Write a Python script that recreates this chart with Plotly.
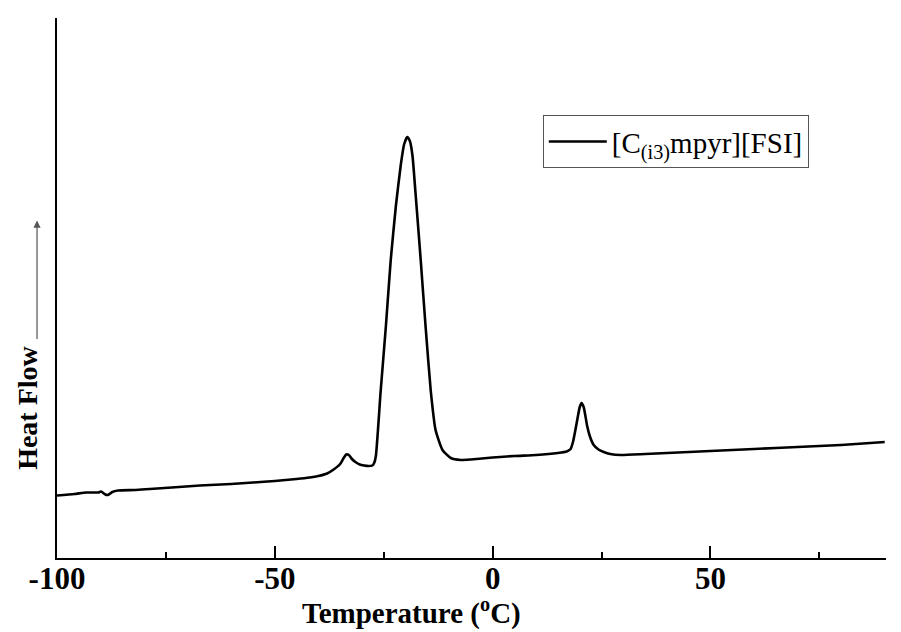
import plotly.graph_objects as go

# Data (temperature in °C, heat flow in arbitrary units)
temperature = [-100, -96, -93.3, -90.5, -89.9, -88.9, -88.3, -87.3, -86.0, -82, -78.7,
               -72, -67.2, -60, -55, -50, -45, -42, -40, -38, -36.5, -35, -34.2,
               -33.6, -33.0, -32.4, -31.5, -30.5, -29.5, -28.5, -27.6, -27.2, -26.8,
               -25.7, -24.5, -23.4, -22.2, -21.1, -20.3, -19.6, -19.0, -18.4, -17.7,
               -16.5, -15.4, -14.2, -13.1, -11.5, -9.6, -7.3, -5, 0, 5, 10, 15,
               17.0, 17.9, 18.5, 19.0, 19.5, 20.0, 20.4, 20.9, 21.3, 21.7, 22.3,
               23.2, 24.3, 25.5, 27, 29.4, 35, 40, 50, 60, 70, 80, 90]
heat_flow = [1.25, 1.28, 1.31, 1.31, 1.33, 1.27, 1.26, 1.32, 1.35, 1.36, 1.38,
             1.42, 1.45, 1.48, 1.51, 1.54, 1.58, 1.61, 1.64, 1.69, 1.77, 1.88, 2.00,
             2.07, 2.06, 1.99, 1.92, 1.87, 1.85, 1.84, 1.85, 1.90, 2.04,
             3.34, 4.64, 5.95, 7.05, 7.85, 8.28, 8.42, 8.34, 8.05, 7.30,
             5.95, 4.64, 3.34, 2.56, 2.16, 2.00, 1.96, 1.97, 2.01, 2.04, 2.06, 2.10,
             2.13, 2.18, 2.34, 2.56, 2.80, 3.02, 3.10, 3.02, 2.84, 2.64, 2.44,
             2.26, 2.17, 2.12, 2.08, 2.06, 2.08, 2.10, 2.14, 2.18, 2.22, 2.26, 2.32]

series_name = "[C<sub>(i3)</sub>mpyr][FSI]"
x_ticks = [-100, -50, 0, 50]
x_tick_labels = ["-100", "-50", "0", "50"]

SERIF = "Times New Roman, Liberation Serif, serif"

fig = go.Figure()
fig.add_trace(go.Scatter(
    x=temperature, y=heat_flow, mode="lines", name=series_name,
    line=dict(color="black", width=2.6, shape="spline", smoothing=0.5),
))

# page body has an 8px margin: figure is 893x624 so it fills the 901x632 window
fig.update_layout(
    width=893, height=624,
    margin=dict(l=49, r=15, t=10, b=74),
    paper_bgcolor="white", plot_bgcolor="white",
    showlegend=True,
    legend=dict(
        x=0.586, y=0.82, xanchor="left", yanchor="top",
        bgcolor="white", bordercolor="#555555", borderwidth=1,
        font=dict(family=SERIF, size=29, color="black"),
        itemwidth=58, tracegroupgap=0,
    ),
    xaxis=dict(
        range=[-100, 90.3], showgrid=False, zeroline=False,
        showline=True, linecolor="black", linewidth=2,
        tickmode="array", tickvals=x_ticks, ticktext=x_tick_labels,
        ticks="inside", ticklen=12, tickwidth=2, tickcolor="black",
        ticklabelstandoff=-8,
        minor=dict(ticks="inside", ticklen=6, tickwidth=2, tickcolor="black",
                   dtick=25, tick0=-100, showgrid=False),
        tickfont=dict(family=SERIF, size=31, color="black", weight="bold"),
    ),
    yaxis=dict(
        range=[0, 10.8], showgrid=False, zeroline=False,
        showline=True, linecolor="black", linewidth=2,
        showticklabels=False, ticks="",
    ),
)

fig.add_annotation(
    text="<b>Temperature (<sup>o</sup>C)</b>", xref="paper", yref="paper",
    x=0.428, y=-0.099, xanchor="center", yanchor="middle", showarrow=False,
    font=dict(family=SERIF, size=29, color="black"),
)
fig.add_annotation(
    text="<b>Heat Flow</b>", xref="paper", yref="paper",
    x=-0.035, y=0.278, xanchor="center", yanchor="middle", textangle=-90,
    showarrow=False, font=dict(family=SERIF, size=28, color="black"),
)
fig.add_annotation(
    text="", xref="paper", yref="paper", x=-0.0241, y=0.625,
    ax=0, ay=120, showarrow=True, arrowhead=2, arrowsize=1.2, arrowwidth=1.2,
    arrowcolor="#555555",
)

fig.write_html("out.html")
